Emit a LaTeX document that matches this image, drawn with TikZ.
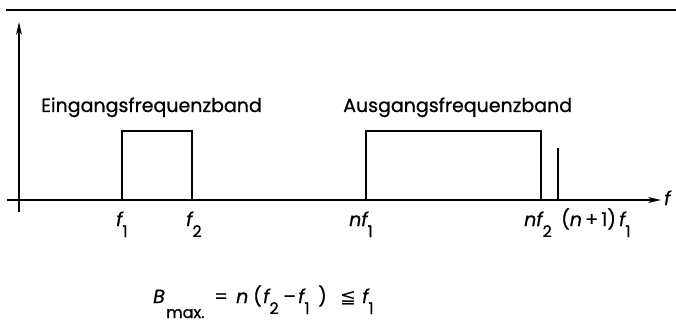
\documentclass[tikz,border=0pt]{standalone}
\usepackage{fontspec}
\setmainfont{Poppins}[RawFeature={embolden=0.8}]
\newfontfamily\symfont{DejaVu Sans}
\usetikzlibrary{arrows.meta}
\newcommand\lo[1]{\raisebox{-11pt}{\fontsize{16}{16}\selectfont #1}}
\newcommand\fv{{\itshape f}}
\newcommand\nv{{\itshape n}}
\tikzset{
  axisline/.style={line width=1.5pt, -{Stealth[length=13pt,width=6pt]}},
  bandline/.style={line width=1.5pt},
  txt/.style={anchor=base west, inner sep=0pt, font=\fontsize{19}{22}\selectfont},
  subtxt/.style={anchor=base west, inner sep=0pt, font=\fontsize{16}{18}\selectfont},
}
\begin{document}
\begin{tikzpicture}[x=1pt,y=-1pt]
\useasboundingbox (0,0) rectangle (676,323);
% top rule
\coordinate (rl) at (6,10);
\coordinate (rr) at (676,10);
\draw[line width=1.9pt] (rl) -- (rr);
% axes
\coordinate (yb) at (19,212);
\coordinate (yt) at (19,22);
\coordinate (xl) at (7,200);
\coordinate (xr) at (661,200);
\draw[axisline] (yb) -- (yt);
\draw[axisline] (xl) -- (xr);
% bands
\coordinate (a1) at (122,200);
\coordinate (a2) at (122,131);
\coordinate (a3) at (192,131);
\coordinate (a4) at (192,200);
\draw[bandline] (a1) -- (a2) -- (a3) -- (a4);
\coordinate (b1) at (366,200);
\coordinate (b2) at (366,131);
\coordinate (b3) at (541,131);
\coordinate (b4) at (541,200);
\draw[bandline] (b1) -- (b2) -- (b3) -- (b4);
\coordinate (s1) at (558,200);
\coordinate (s2) at (558,148);
\draw[bandline] (s1) -- (s2);
% band labels
\node[txt] (lein) at (41,112) {Eingangsfrequenzband};
\node[txt] (laus) at (343,112) {Ausgangsfrequenzband};
% axis labels
\node[txt] (lf) at (664,205) {\fv};
\node[txt] (lf1) at (116,226) {\fv\lo{1}};
\node[txt] (lf2) at (186,226) {\fv\lo{2}};
\node[txt] (lnf1) at (349,226) {\nv\fv\lo{1}};
\node[txt] (lnf2) at (524,226) {\nv\fv\lo{2}};
\node[txt] (ln1f1) at (561,226) {(\nv\,+\,1)\,\fv\lo{1}};
% formula
\node[txt] (fB) at (153,303) {\itshape B};
\node[subtxt] (fmax) at (166,318) {max.};
\node[txt] (feq) at (214,303) {=};
\node[txt] (fn) at (236,303) {\nv};
\node[txt] (fo) at (253,303) {(};
\node[txt] (ff2) at (263,303) {\fv\lo{2}};
\node[txt] (fmin) at (283,303) {–};
\node[txt] (ff1) at (298,303) {\fv\lo{1}};
\node[txt] (fc) at (318,303) {)};
\node[txt] (fle) at (340,303) {\symfont ≦};
\node[txt] (ff3) at (362,303) {\fv\lo{1}};
\end{tikzpicture}
\end{document}
